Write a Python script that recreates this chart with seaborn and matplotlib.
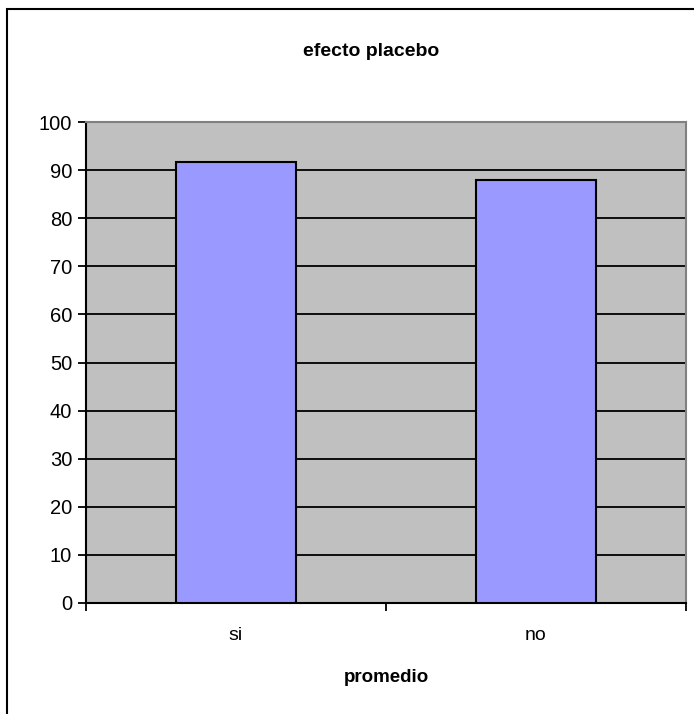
import matplotlib
matplotlib.use("Agg")
import matplotlib.pyplot as plt
import seaborn as sns
import pandas as pd
from matplotlib.patches import Rectangle

# data
categorias = ["si", "no"]
valores = [91.7, 87.9]
y_ticks = [0, 10, 20, 30, 40, 50, 60, 70, 80, 90, 100]

df = pd.DataFrame({"cat": categorias, "val": valores})

sns.set_theme(style="white")
plt.rcParams['font.family'] = ['Liberation Sans', 'DejaVu Sans']
plt.rcParams['text.color'] = 'black'
plt.rcParams['axes.labelcolor'] = 'black'
plt.rcParams['xtick.color'] = 'black'
plt.rcParams['ytick.color'] = 'black'

fig = plt.figure(figsize=(6.94, 7.14), dpi=100)
fig.patch.set_facecolor("white")

# outer chart border (left and top visible, rest cropped)
fig.patches.append(Rectangle((7 / 694, -0.1), 2.0, 1 - 9 / 714 + 0.1,
                             transform=fig.transFigure, fill=False,
                             edgecolor="black", linewidth=1.5, zorder=0))

ax = fig.add_axes([86 / 694, 1 - 603 / 714, 600 / 694, (603 - 122) / 714])
ax.set_facecolor("#C0C0C0")

sns.barplot(data=df, x="cat", y="val", ax=ax, color="#9999FF",
            saturation=1, width=0.4, edgecolor="black", linewidth=1.5, zorder=3)

ax.set_ylim(0, 100)
ax.set_xlim(-0.5, 1.5)
ax.set_yticks(y_ticks)
for v in y_ticks[1:-1]:
    ax.axhline(v, color="black", linewidth=1.3, zorder=2)

ax.tick_params(axis="y", which="major", direction="out", length=6, width=1.3,
               color="black", labelcolor="black", labelsize=14.5, pad=4, left=True)
ax.tick_params(axis="x", which="major", length=0, labelsize=14, pad=17,
               labelcolor="black")
ax.set_xticks([-0.5, 0.5, 1.5], minor=True)
ax.tick_params(axis="x", which="minor", direction="out", length=6, width=1.3,
               color="black", bottom=True)

for s in ["left", "bottom"]:
    ax.spines[s].set_color("black")
    ax.spines[s].set_linewidth(1.5)
for s in ["top", "right"]:
    ax.spines[s].set_color("#808080")
    ax.spines[s].set_linewidth(1.5)

ax.set_ylabel("")
ax.set_xlabel("promedio", fontsize=13.5, fontweight="bold", labelpad=18,
              color="black")

fig.text(371 / 694, 1 - 51 / 714, "efecto placebo", ha="center", va="center",
         fontsize=14, fontweight="bold", color="black")

fig.savefig("out.png", dpi=100)
